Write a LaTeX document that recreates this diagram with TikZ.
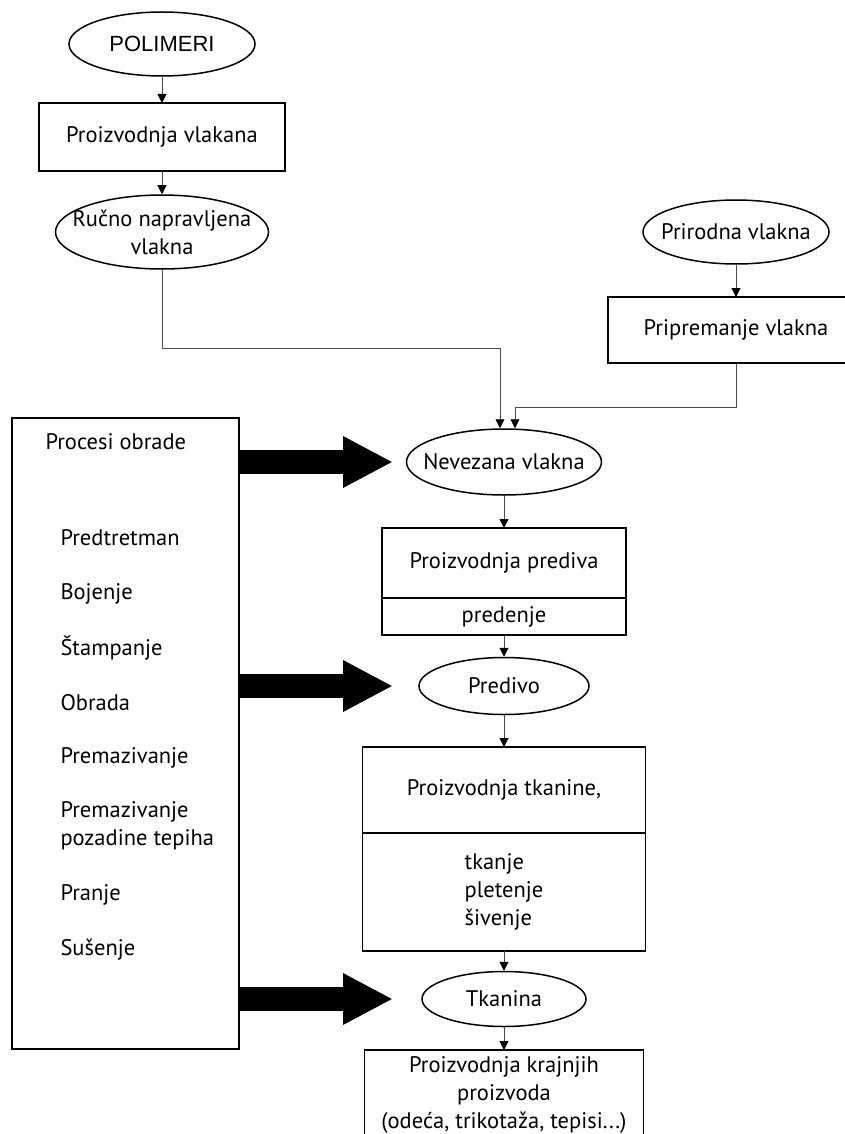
\documentclass[tikz,border=0pt]{standalone}
\usepackage{fontspec}
\setmainfont{PT Sans}
\newfontfamily\polyfont{Liberation Sans}
\usetikzlibrary{arrows.meta,positioning,shapes.geometric}

\begin{document}
\begin{tikzpicture}[
  x=1pt, y=-1pt,
  every node/.style={font=\fontsize{22.5}{28}\selectfont},
  oval/.style={ellipse,draw,line width=1.5pt,inner sep=-25pt,align=center},
  stepbox/.style={rectangle,draw,line width=1.7pt,outer sep=0pt,align=center},
  item/.style={anchor=west,align=left},
  flow/.style={-{Triangle[length=9pt,width=9pt,black]},line width=0.9pt,draw=black!70},
  bigarrow/.style={line width=24pt,-{Triangle[length=50pt,width=48pt]}}
]
\clip (0,0) rectangle (845,1134);

% left column: polymers
\node[oval,minimum width=186,minimum height=64,font=\polyfont\fontsize{22}{26}\selectfont] (poly) at (162,44) {POLIMERI};
\node[stepbox,minimum width=246,minimum height=68] (fibmake) at (162,137) {Proizvodnja vlakana};
\node[oval,minimum width=213,minimum height=74] (manmade) at (162,232) {Ručno napravljena\\vlakna};

% right column: natural fibres
\node[oval,minimum width=186,minimum height=64] (natural) at (736,232) {Prirodna vlakna};
\node[stepbox,minimum width=256,minimum height=66] (prep) at (736,330) {Pripremanje vlakna};

% main chain
\node[oval,minimum width=195,minimum height=66] (loose) at (504,462) {Nevezana vlakna};
\node[stepbox,minimum width=244,minimum height=70] (yarnmake) at (504,563) {Proizvodnja prediva};
\node[stepbox,minimum width=244,minimum height=37,below=0pt of yarnmake] (spin) {predenje};
\node[oval,minimum width=170,minimum height=57] (yarn) at (504,686) {Predivo};
\node[stepbox,minimum width=283,minimum height=86] (fabmake) at (504,790) {Proizvodnja tkanine,};
\node[stepbox,minimum width=283,minimum height=118,below=0pt of fabmake,align=left] (weave) {tkanje\\pletenje\\šivenje};
\node[oval,minimum width=164,minimum height=55] (fabric) at (504,999) {Tkanina};
\node[stepbox,minimum width=279,minimum height=90,anchor=north] (endmake) at (504,1050) {Proizvodnja krajnjih\\proizvoda\\(odeća, trikotaža, tepisi...)};

% finishing processes
\node[stepbox,minimum width=227,minimum height=631,anchor=north west] (proc) at (12,418) {};
\node[item] (proctitle) at (42,442) {Procesi obrade};
\foreach \name/\y/\txt in {pre/538/Predtretman, dye/594/Bojenje, print/648/Štampanje,
    treat/703/Obrada, coat/758/Premazivanje, back/826/{Premazivanje\\pozadine tepiha},
    wash/895/Pranje, dry/950/Sušenje}
  \node[item] (\name) at (57,\y) {\txt};

\draw[flow] (poly) -- (fibmake);
\draw[flow] (fibmake) -- (manmade);
\draw[flow] (natural) -- (prep);
\draw[flow] (manmade.south) -- ++(0,79) -| ([xshift=-4pt]loose.north);
\draw[flow] (prep.south) -- ++(0,44) -| ([xshift=11pt]loose.north);
\draw[flow] (loose) -- (yarnmake);
\draw[flow] (spin) -- (yarn);
\draw[flow] (yarn) -- (fabmake);
\draw[flow] (weave) -- (fabric);
\draw[flow] (fabric) -- (endmake);

\draw[bigarrow] (proc.east |- loose) -- ++(154,0);
\draw[bigarrow] (proc.east |- yarn) -- ++(154,0);
\draw[bigarrow] (proc.east |- fabric) -- ++(154,0);
\end{tikzpicture}
\end{document}
